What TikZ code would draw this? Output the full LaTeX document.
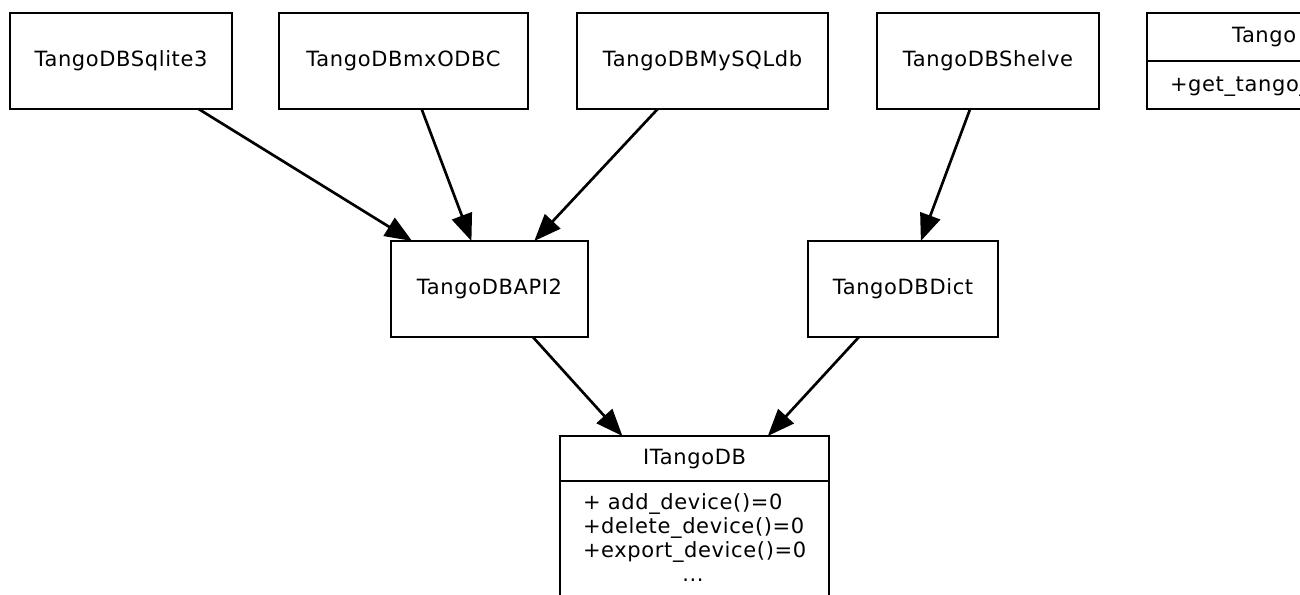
\documentclass[tikz,border=0pt]{standalone}
\usepackage{fontspec}
\setmainfont{DejaVu Sans}[LetterSpace=3]
\usetikzlibrary{arrows.meta}
\begin{document}
\begin{tikzpicture}[x=1pt,y=-1pt,line width=2.67pt,
  lbl/.style={font=\fontsize{21}{24}\selectfont},
  box/.style={lbl,draw,rectangle,inner sep=0pt,outer sep=0pt,minimum height=96pt,text height=16pt,text depth=5pt},
  txt/.style={lbl,inner sep=0pt,outer sep=0pt},
  arr/.style={-{Triangle[length=27pt,width=21pt]}}]
\useasboundingbox (0,0) rectangle (1300,594);
\clip (0,0) rectangle (1300,594);
% top row
\node[box,minimum width=222pt] (sq) at (121,61) {TangoDBSqlite3};
\node[box,minimum width=249pt] (mx) at (403.5,61) {TangoDBmxODBC};
\node[box,minimum width=251pt] (my) at (702.5,61) {TangoDBMySQLdb};
\node[box,minimum width=222pt] (sh) at (988,61) {TangoDBShelve};
% factory class (cut off at right edge)
\node[box,minimum width=220pt] (tf) at (1257,61) {};
\coordinate (tfdiv) at (1147,61);
\draw (tfdiv) -- (tfdiv -| tf.east);
\node[txt,anchor=base west] (tfname) at (1232,43) {Tango};
\node[txt,anchor=base west] (tfop) at (1170,91) {+get\_tango\_};
% middle row
\node[box,minimum width=197pt] (api) at (489.5,289) {TangoDBAPI2};
\node[box,minimum width=190pt] (dict) at (903,289) {TangoDBDict};
% interface
\node[box,minimum width=269pt,minimum height=160pt] (itdb) at (694.5,516) {};
\coordinate (itdiv) at (560,481);
\draw (itdiv) -- (itdiv -| itdb.east);
\node[txt,anchor=base] (itname) at (694.5,464) {ITangoDB};
\node[txt,anchor=base west] (m1) at (583,509) {+ add\_device()=0};
\node[txt,anchor=base west] (m2) at (583,533) {+delete\_device()=0};
\node[txt,anchor=base west] (m3) at (583,557) {+export\_device()=0};
\node[txt,anchor=base] (m4) at (693,581) {...};
% connectors
\draw[arr] (sq) -- (api);
\draw[arr] (mx) -- (api);
\draw[arr] (my) -- (api);
\draw[arr] (sh) -- (dict);
\draw[arr] (api) -- (itdb);
\draw[arr] (dict) -- (itdb);
\end{tikzpicture}
\end{document}
